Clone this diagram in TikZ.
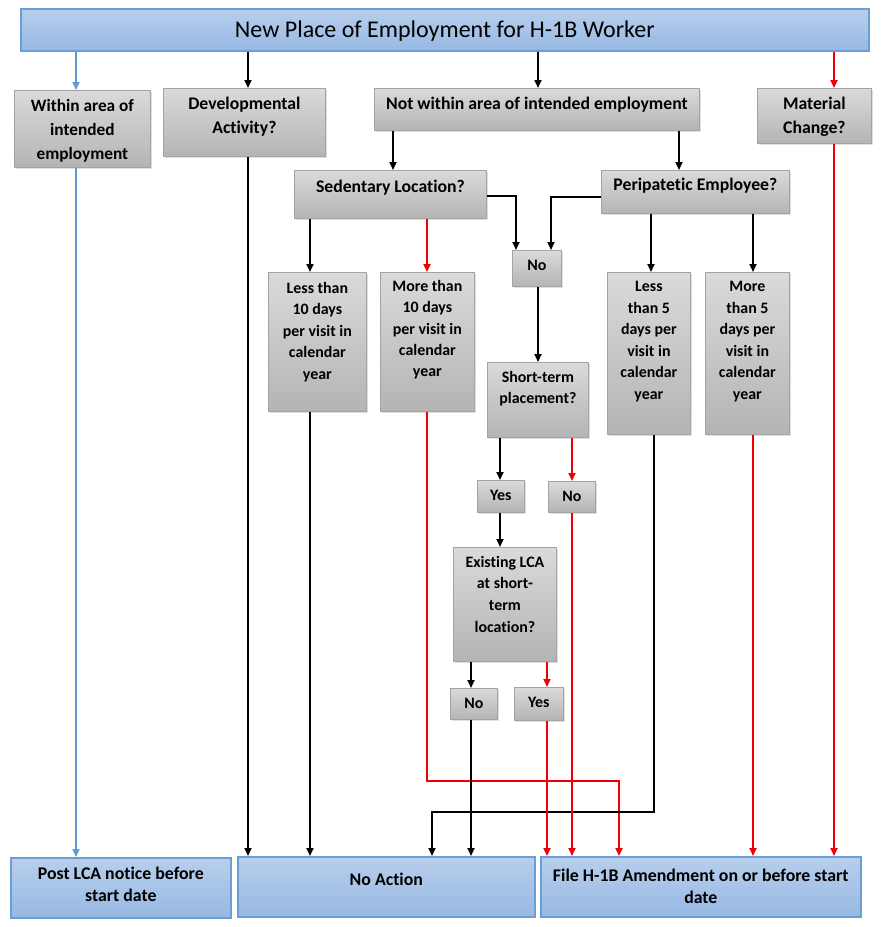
\documentclass[tikz,border=0pt]{standalone}
\usepackage{fontspec}
\setmainfont{Carlito}[Ligatures=CommonOff]
\usetikzlibrary{arrows.meta,shadows}
\definecolor{gtop}{HTML}{DADADA}
\definecolor{gbot}{HTML}{B4B4B4}
\definecolor{gline}{HTML}{A3A3A3}
\definecolor{btop}{HTML}{B8CFEC}
\definecolor{bbot}{HTML}{97B8E3}
\definecolor{bline}{HTML}{6A9FD6}
\definecolor{bluearrow}{HTML}{5B9BD5}
\definecolor{redarrow}{HTML}{F00000}
\newcommand\tl[1]{\begin{tabular}[t]{@{}c@{}}#1\end{tabular}}
\tikzset{
  gbox/.style={draw=gline, line width=0.8pt, top color=gtop, bottom color=gbot, inner sep=0pt,
    drop shadow={shadow xshift=1.2pt, shadow yshift=-1.2pt, fill=black, opacity=0.12}},
  bbox/.style={draw=bline, line width=1.6pt, top color=btop, bottom color=bbot, inner sep=0pt},
  gtxt/.style={inner sep=0pt, font=\bfseries},
  blk/.style={draw=black, line width=1.9pt, -{Triangle[width=7pt,length=8pt]}},
  redl/.style={draw=redarrow, line width=1.9pt, -{Triangle[width=7pt,length=8pt]}},
  blu/.style={draw=bluearrow, line width=1.6pt, -{Triangle[width=7pt,length=8pt]}},
}
% \mkbox{style}{name}{x1}{y1}{x2}{y2}
\newcommand\mkbox[6]{%
  \pgfmathsetmacro\bw{#5-#3}\pgfmathsetmacro\bh{#6-#4}%
  \node[#1, minimum width=\bw pt, minimum height=\bh pt, anchor=north west] (#2) at (#3,#4) {};}
% \mktxt{boxname}{baseline offset}{fontsize}{skip}{text}
\newcommand\mktxt[5]{%
  \node[gtxt, anchor=base, font=\bfseries\fontsize{#3}{#4}\selectfont] (#1T) at ([yshift=-#2pt]#1.north) {\tl{#5}};}
\begin{document}
\begin{tikzpicture}[x=1pt,y=-1pt]
\useasboundingbox (0,0) rectangle (883,927);
% title
\mkbox{bbox}{title}{20}{8}{868}{50}
\node[inner sep=0pt, font=\fontsize{24}{28}\selectfont] (titleT) at ([yshift=-1pt]title.center) {New Place of Employment for H-1B Worker};
% first row
\mkbox{gbox}{within}{14}{90}{150}{167}
\mktxt{within}{21.5}{17.3}{24}{Within area of\\intended\\employment}
\mkbox{gbox}{dev}{163}{88}{325}{156}
\mktxt{dev}{21.5}{17.7}{24}{Developmental\\Activity?}
\mkbox{gbox}{notw}{374}{88}{699}{130}
\mktxt{notw}{21.5}{17.7}{24}{Not within area of intended employment}
\mkbox{gbox}{mat}{757}{88}{871}{143}
\mktxt{mat}{21.5}{17.7}{24}{Material\\Change?}
% second row
\mkbox{gbox}{sed}{294}{170}{486}{218}
\mktxt{sed}{22}{17.7}{24}{Sedentary Location?}
\mkbox{gbox}{peri}{601}{170}{789}{213}
\mktxt{peri}{20.5}{17.7}{24}{Peripatetic Employee?}
\mkbox{gbox}{noA}{512}{250}{561}{286}
\mktxt{noA}{20.5}{16}{21.5}{No}
% third row
\mkbox{gbox}{ltten}{268}{272}{366}{411}
\mktxt{ltten}{21}{15.9}{21.5}{Less than\\10 days\\per visit in\\calendar\\year}
\mkbox{gbox}{mtten}{380}{272}{474}{411}
\mktxt{mtten}{19.5}{15.9}{21.3}{More than\\10 days\\per visit in\\calendar\\year}
\mkbox{gbox}{ltfive}{607}{272}{690}{434}
\mktxt{ltfive}{19.5}{15.9}{21.5}{Less\\than 5\\days per\\visit in\\calendar\\year}
\mkbox{gbox}{mtfive}{705}{272}{789}{434}
\mktxt{mtfive}{19.5}{15.9}{21.5}{More\\than 5\\days per\\visit in\\calendar\\year}
\mkbox{gbox}{short}{487}{362}{588}{437}
\mktxt{short}{20}{15.9}{21}{Short-term\\placement?}
\mkbox{gbox}{yesA}{477}{480}{524}{512}
\mktxt{yesA}{20.5}{15.9}{21.5}{Yes}
\mkbox{gbox}{noB}{548}{481}{595}{512}
\mktxt{noB}{20}{15.9}{21.5}{No}
\mkbox{gbox}{exist}{453}{547}{556}{661}
\mktxt{exist}{20}{15.9}{21.7}{Existing LCA\\at short-\\term\\location?}
\mkbox{gbox}{noC}{450}{688}{497}{719}
\mktxt{noC}{20.5}{15.9}{21.5}{No}
\mkbox{gbox}{yesC}{514}{687}{563}{720}
\mktxt{yesC}{20.5}{15.9}{21.5}{Yes}
% bottom row
\mkbox{bbox}{post}{10}{857}{230}{917}
\mktxt{post}{22.5}{17.8}{22}{Post LCA notice before\\start date}
\mkbox{bbox}{noact}{237}{856}{534}{916}
\mktxt{noact}{29.5}{17.8}{22}{No Action}
\mkbox{bbox}{file}{540}{856}{860}{916}
\mktxt{file}{25.5}{17.8}{22}{File H-1B Amendment on or before start\\date}
% connectors
\draw[blu] (title.south -| 76,0) -- (within.north -| 76,0);
\draw[blu] (within.south -| 76,0) -- (post.north -| 76,0);
\draw[blk] (title.south -| 248,0) -- (dev.north -| 248,0);
\draw[blk] (dev.south -| 248,0) -- (noact.north -| 248,0);
\draw[blk] (title.south -| 538,0) -- (notw.north -| 538,0);
\draw[redl] (title.south -| 834,0) -- (mat.north -| 834,0);
\draw[redl] (mat.south -| 834,0) -- (file.north -| 834,0);
\draw[blk] (notw.south -| 393,0) -- (sed.north -| 393,0);
\draw[blk] (notw.south -| 679,0) -- (peri.north -| 679,0);
\draw[blk] (sed.east |- 0,196) -| (noA.north -| 516,0);
\draw[blk] (peri.west |- 0,197) -| (noA.north -| 551,0);
\draw[blk] (sed.south -| 310,0) -- (ltten.north -| 310,0);
\draw[redl] (sed.south -| 427,0) -- (mtten.north -| 427,0);
\draw[blk] (noA.south -| 538,0) -- (short.north -| 538,0);
\draw[blk] (peri.south -| 651,0) -- (ltfive.north -| 651,0);
\draw[blk] (peri.south -| 753,0) -- (mtfive.north -| 753,0);
\draw[blk] (ltten.south -| 310,0) -- (noact.north -| 310,0);
\draw[redl] (mtten.south -| 427,0) -- (427,781) -| (file.north -| 619,0);
\draw[blk] (ltfive.south -| 654,0) -- (654,812) -| (noact.north -| 432,0);
\draw[redl] (mtfive.south -| 753,0) -- (file.north -| 753,0);
\draw[blk] (short.south -| 500,0) -- (yesA.north -| 500,0);
\draw[redl] (short.south -| 572,0) -- (noB.north -| 572,0);
\draw[blk] (yesA.south -| 500,0) -- (exist.north -| 500,0);
\draw[redl] (noB.south -| 572,0) -- (file.north -| 572,0);
\draw[blk] (exist.south -| 471,0) -- (noC.north -| 471,0);
\draw[redl] (exist.south -| 547,0) -- (yesC.north -| 547,0);
\draw[blk] (noC.south -| 471,0) -- (noact.north -| 471,0);
\draw[redl] (yesC.south -| 547,0) -- (file.north -| 547,0);
\end{tikzpicture}
\end{document}
